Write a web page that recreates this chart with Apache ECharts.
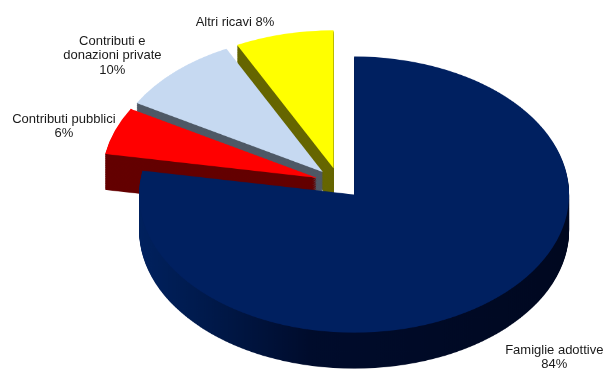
<!DOCTYPE html>
<html><head><meta charset="utf-8">
<script src="https://cdn.jsdelivr.net/npm/echarts@6/dist/echarts.min.js"></script>
<style>
html,body{margin:0;padding:0;background:#fff;overflow:hidden}
#wrap{position:relative;width:606px;height:370px;}
#pie{position:absolute;left:0;top:0;width:606px;height:576px;transform-origin:0 0;}
#lab{position:absolute;left:0;top:0;width:606px;height:370px;}
</style></head><body>
<div id="wrap"><div id="pie"></div><div id="lab"></div></div>
<script>
// ---- data ----
const categories = ['Famiglie adottive', 'Contributi pubblici', 'Contributi e\ndonazioni private', 'Altri ricavi'];
const values = [84, 6, 10, 8];
const labelSeparators = ['\n', '\n', '\n', ' '];

// ---- styles ----
const topColors = ['#002060', '#ff0000', '#c6d9f1', '#ffff00'];
const sideColors = [
  new echarts.graphic.LinearGradient(0, 0, 1, 0, [
    {offset: 0, color: '#00215e'},
    {offset: 0.15, color: '#001a4c'},
    {offset: 0.4, color: '#000c2c'},
    {offset: 1, color: '#000820'}
  ]),
  '#640000', '#4f5966', '#666600'
];
const labelNudges = [[62, 57], [-51, -4], [-63, -16], [-49, -12]];

const K = 0.642;          // vertical squash of the tilted pie
const CX = 339, CY = 183; // screen centre
const R = 215, OFF = 23.5, DEPTH = 36, LAYERS = 40;

const pieDiv = document.getElementById('pie');
pieDiv.style.height = (370 / K) + 'px';
pieDiv.style.transform = 'scaleY(' + K + ')';

function pieSeries(cyPre, colors, z) {
  return {
    type: 'pie', silent: true, animation: false,
    center: [CX, cyPre], radius: R,
    startAngle: 90, clockwise: true,
    selectedMode: 'multiple', selectedOffset: OFF,
    label: {show: false}, labelLine: {show: false},
    emphasis: {disabled: true},
    z: z,
    itemStyle: {borderWidth: 0},
    data: categories.map((n, i) => ({name: n, value: values[i], selected: true, itemStyle: {color: colors[i], borderWidth: 0}}))
  };
}

const series = [];
const cy0 = CY / K, depthPre = DEPTH / K;
for (let i = LAYERS; i >= 1; i--) {
  series.push(pieSeries(cy0 + depthPre * i / LAYERS, sideColors, 2 + (LAYERS - i)));
}
series.push(pieSeries(cy0, topColors, LAYERS + 5));

const pieChart = echarts.init(pieDiv, null, {renderer: 'canvas'});
pieChart.setOption({animation: false, series: series});

// ---- labels (unsquashed overlay) ----
const total = values.reduce((a, b) => a + b, 0);
const mids = [];
let start = 90;
values.forEach(v => { const span = v / total * 360; mids.push((start - span / 2) * Math.PI / 180); start -= span; });

const labChart = echarts.init(document.getElementById('lab'), null, {renderer: 'canvas'});
labChart.setOption({
  animation: false,
  series: [{
    type: 'pie', silent: true, animation: false,
    center: [CX, CY], radius: R, startAngle: 90, clockwise: true,
    avoidLabelOverlap: false,
    itemStyle: {color: 'rgba(0,0,0,0)', borderWidth: 0},
    label: {
      show: true, position: 'outside',
      formatter: p => p.name + labelSeparators[p.dataIndex] + p.value + '%',
      fontFamily: '"Liberation Sans", Arial, sans-serif',
      fontSize: 13, lineHeight: 14.5, color: '#1a1a1a'
    },
    labelLine: {show: false},
    labelLayout: function (params) {
      const i = params.dataIndex, th = mids[i];
      const ax = CX + (R + OFF) * Math.cos(th);
      const ay = CY - (R + OFF) * K * Math.sin(th);
      return {x: ax + labelNudges[i][0], y: ay + labelNudges[i][1], align: 'center', verticalAlign: 'middle'};
    },
    data: categories.map((n, i) => ({name: n, value: values[i]}))
  }]
});
</script>
</body></html>
